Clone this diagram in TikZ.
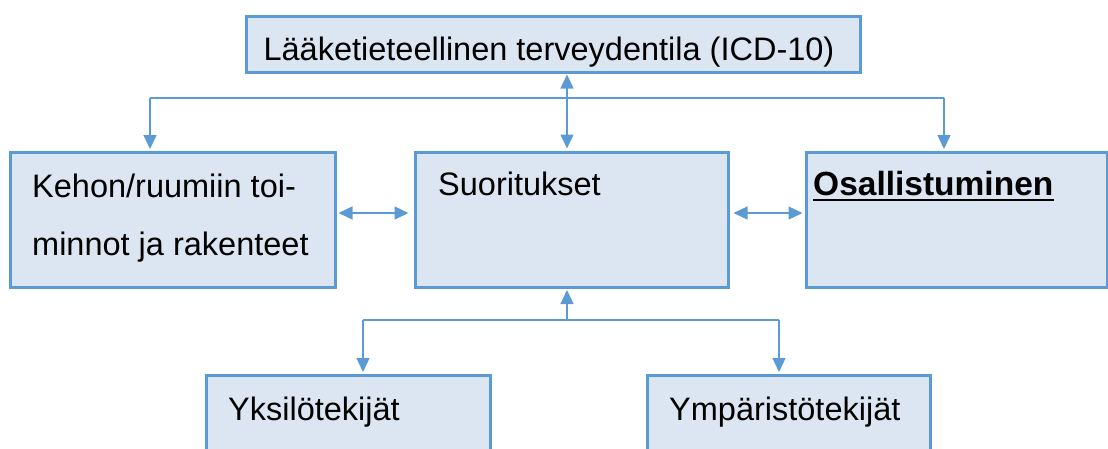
\documentclass[tikz,border=0pt]{standalone}
\usepackage{fontspec}
\setmainfont{Liberation Sans}
\usetikzlibrary{arrows.meta}
\definecolor{boxfill}{HTML}{DCE6F2}
\definecolor{boxline}{HTML}{5B9BD5}
\begin{document}
\begin{tikzpicture}[x=1pt,y=-1pt,
  box/.style={draw=boxline, fill=boxfill, line width=3pt, inner sep=0pt, rectangle},
  lbl/.style={inner sep=0pt, anchor=base west, font=\fontsize{32.5}{58}\selectfont},
  conn/.style={draw=boxline, line width=1.3pt},
  tip/.style={-{Triangle[length=14pt,width=13pt]}},
  tips/.style={{Triangle[length=14pt,width=13pt]}-{Triangle[length=14pt,width=13pt]}}]
\useasboundingbox (0,0) rectangle (1108,448);
\clip (0,0) rectangle (1108,448);
% boxes
\node[box, minimum width=614pt, minimum height=56pt] (top) at (553,44) {};
\node[box, minimum width=325pt, minimum height=135pt] (left) at (172.5,219.5) {};
\node[box, minimum width=313pt, minimum height=135pt] (mid) at (571.5,219.5) {};
\node[box, minimum width=301pt, minimum height=135pt] (right) at (956.5,219.5) {};
\node[box, minimum width=284pt, minimum height=110pt] (yks) at (348,430) {};
\node[box, minimum width=283pt, minimum height=110pt] (ymp) at (788.5,430) {};
% texts
\node[lbl, anchor=base] (ttop) at (549,60) {Lääketieteellinen terveydentila (ICD-10)};
\node[lbl] (tl1) at (32,197) {Kehon/ruumiin toi-};
\node[lbl] (tl2) at (32,255) {minnot ja rakenteet};
\node[lbl] (tmid) at (438,195) {Suoritukset};
\node[lbl, font=\fontsize{33.5}{58}\selectfont\bfseries] (tosa) at (813,195) {Osallistuminen};
\draw[line width=2.5pt] ([yshift=-5pt]tosa.base west) -- ([yshift=-5pt]tosa.base east);
\node[lbl] (tyks) at (228,420) {Yksilötekijät};
\node[lbl] (tymp) at (669,420) {Ympäristötekijät};
% connector coordinates
\coordinate (jt) at (567,98);
\coordinate (cl) at (150,98);
\coordinate (cr) at (944,98);
\coordinate (cb) at (567,320);
\coordinate (bl) at (363,320);
\coordinate (br) at (779,320);
\coordinate (ha) at (0,213);
% top connectors
\draw[conn, tips, shorten <=1pt, shorten >=2pt] (top.south -| jt) -- (mid.north -| jt);
\draw[conn] (cl) -- (cr);
\draw[conn, tip, shorten >=1.5pt] (cl) -- (cl |- left.north);
\draw[conn, tip, shorten >=1.5pt] (cr) -- (cr |- right.north);
% horizontal connectors
\draw[conn, tips, shorten <=2pt, shorten >=5pt] (left.east |- ha) -- (mid.west |- ha);
\draw[conn, tips, shorten <=4pt, shorten >=2pt] (mid.east |- ha) -- (right.west |- ha);
% bottom connectors
\draw[conn, tip, shorten >=1.5pt] (cb) -- (cb |- mid.south);
\draw[conn] (bl) -- (br);
\draw[conn, tip, shorten >=1.5pt] (bl) -- (bl |- yks.north);
\draw[conn, tip, shorten >=1.5pt] (br) -- (br |- ymp.north);
\end{tikzpicture}
\end{document}
